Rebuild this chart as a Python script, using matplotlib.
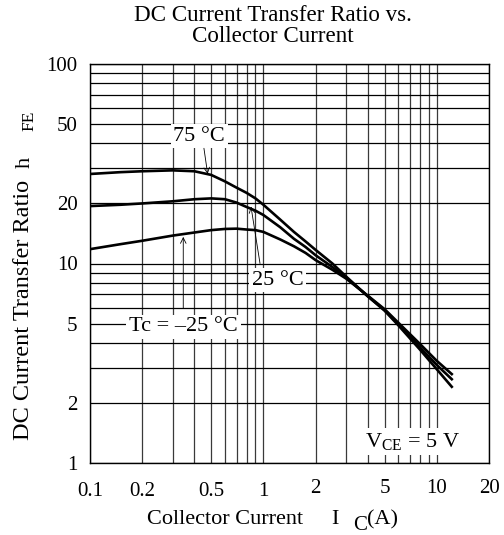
import numpy as np
import matplotlib
matplotlib.use('Agg')
import matplotlib.pyplot as plt
from matplotlib.ticker import FixedLocator, NullFormatter
import matplotlib.transforms as mtransforms

plt.rcParams['font.family'] = 'Liberation Serif'
plt.rcParams['mathtext.fontset'] = 'custom'
plt.rcParams['mathtext.rm'] = 'Liberation Serif'
plt.rcParams['mathtext.it'] = 'Liberation Serif:italic'

# collector current (A)
ic = [0.1, 0.15, 0.2, 0.3, 0.4, 0.5, 0.6, 0.7, 0.8, 0.9, 1.0, 1.25, 1.5, 1.75,
      2.0, 2.5, 3.0, 4.0, 5.0, 6.0, 8.0, 10.0, 12.2]
# hFE for each case temperature
hfe_75 = [28.1, 28.7, 29.0, 29.3, 29.0, 27.8, 25.8, 24.0, 22.6, 21.2, 19.7, 16.6, 14.4, 12.9,
          11.7, 10.0, 8.6, 6.85, 5.8, 4.9, 3.7, 2.95, 2.41]
hfe_25 = [19.4, 19.7, 20.0, 20.5, 21.0, 21.2, 21.0, 20.2, 19.2, 18.4, 17.5, 15.2, 13.3, 12.1,
          11.0, 9.6, 8.5, 6.85, 5.85, 4.97, 3.8, 3.1, 2.63]
hfe_m25 = [11.8, 12.5, 13.0, 13.8, 14.3, 14.7, 14.9, 14.95, 14.8, 14.7, 14.4, 13.2, 12.2, 11.3,
           10.4, 9.3, 8.4, 6.9, 5.9, 5.05, 3.95, 3.25, 2.79]

x_major = [0.1, 0.2, 0.5, 1, 2, 5, 10, 20]
x_minor = [0.3, 0.4, 0.6, 0.7, 0.8, 0.9, 3, 4, 6, 7, 8, 9]
y_major = [1, 2, 5, 10, 20, 50, 100]
y_minor = [3, 4, 6, 7, 8, 9, 30, 40, 60, 70, 80, 90]

fig = plt.figure(figsize=(5.04, 5.35), dpi=100)
ax = fig.add_axes([90/504, 1-463/535, 399/504, 399/535])

ax.set_xscale('log')
ax.set_yscale('log')
ax.set_xlim(0.1, 20)
ax.set_ylim(1, 100)

ax.xaxis.set_major_locator(FixedLocator(x_major))
ax.xaxis.set_minor_locator(FixedLocator(x_minor))
ax.yaxis.set_major_locator(FixedLocator(y_major))
ax.yaxis.set_minor_locator(FixedLocator(y_minor))
ax.set_xticklabels([f'{v:g}' for v in x_major])
ax.set_yticklabels([f'{v:g}' for v in y_major])
ax.xaxis.set_minor_formatter(NullFormatter())
ax.yaxis.set_minor_formatter(NullFormatter())
ax.tick_params(which='both', length=0, labelsize=15)
ax.tick_params(axis='x', pad=14)
ax.tick_params(axis='y', pad=9)

ax.grid(which='both', axis='x', color='#3a3a3a', lw=0.9)
ax.grid(which='both', axis='y', color='black', lw=0.9)
ax.set_axisbelow(True)
for s in ax.spines.values():
    s.set_linewidth(1.0)

# the larger x labels sit a little higher in the original
shift = mtransforms.ScaledTranslation(0, 3/100, fig.dpi_scale_trans)
for lab, v in zip(ax.get_xticklabels(), x_major):
    if v >= 2:
        lab.set_transform(lab.get_transform() + shift)

for h in (hfe_75, hfe_25, hfe_m25):
    ax.plot(ic, h, color='black', lw=1.9, zorder=3, solid_joinstyle='round')

box = dict(facecolor='white', edgecolor='none', pad=2)
ax.text(0.426, 43.5, '75 °C', fontsize=16, ha='center', va='center', bbox=box, zorder=4)
ax.text(1.21, 8.26, '25 °C', fontsize=16, ha='center', va='center', bbox=box, zorder=4)
ax.text(0.346, 4.82, 'Tc = –25 °C', fontsize=16, ha='center', va='center', bbox=box, zorder=4)
ax.text(7.24, 1.28, r'V$_{\rm CE}$ = 5 V', fontsize=16, ha='center', va='center',
        bbox=box, zorder=4)

arrow = dict(arrowstyle='->', lw=0.6, color='black', mutation_scale=10, shrinkA=0, shrinkB=0)
ax.annotate('', xy=(0.477, 28.1), xytext=(0.454, 37.8), arrowprops=arrow, zorder=5)
ax.annotate('', xy=(0.848, 19.3), xytext=(0.956, 10.0), arrowprops=arrow, zorder=5)
ax.annotate('', xy=(0.345, 13.6), xytext=(0.345, 5.96), arrowprops=arrow, zorder=5)

fig.text(273/504, 1-26/535, 'DC Current Transfer Ratio vs.\nCollector Current',
         ha='center', va='center', fontsize=16.6, linespacing=0.98)

# x axis title, pieces placed like the original (subscript C set lower)
fig.text(147/504, 1-524/535, 'Collector Current', ha='left', va='baseline', fontsize=16)
fig.text(331/504, 1-524/535, 'I', ha='left', va='baseline', fontsize=16)
fig.text(353/504, 1-530/535, 'C', ha='left', va='baseline', fontsize=15)
fig.text(367/504, 1-524/535, '(A)', ha='left', va='baseline', fontsize=16)

# y axis title, rotated pieces
fig.text(29/504, 1-440/535, 'DC Current Transfer Ratio', rotation=90, rotation_mode='anchor',
         ha='left', va='baseline', fontsize=17.5)
fig.text(30/504, 1-168/535, 'h', rotation=90, rotation_mode='anchor',
         ha='left', va='baseline', fontsize=16)
fig.text(33/504, 1-131/535, 'FE', rotation=90, rotation_mode='anchor',
         ha='left', va='baseline', fontsize=12.5)

fig.savefig('out.png', dpi=100)
